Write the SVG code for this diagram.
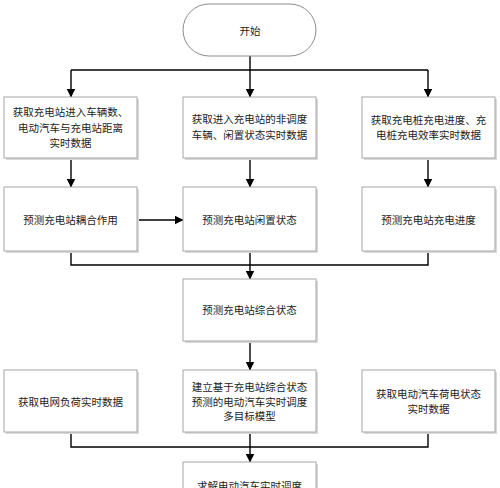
<svg xmlns="http://www.w3.org/2000/svg" width="500" height="488" viewBox="0 0 500 488">
<defs>
<style>
.box{fill:#ffffff;stroke:#a6a6a6;stroke-width:1}
.sh{fill:#d9d9d9}
.t{font-family:"Noto Sans CJK SC","Noto Sans",sans-serif;font-size:10.5px;fill:#222;text-anchor:middle}
.ln{fill:none;stroke:#000;stroke-width:1.4}
</style>
<marker id="ar" markerWidth="9" markerHeight="9" refX="8.5" refY="4.5" orient="auto" markerUnits="userSpaceOnUse">
<path d="M0,0 L9,4.5 L0,9 Z" fill="#000"/>
</marker>
</defs>
<rect width="500" height="488" fill="#ffffff"/>
<g id="connectors">
<path class="ln" d="M250,56 V70 M71,70 H428"/>
<path class="ln" d="M71,70 V97" marker-end="url(#ar)"/>
<path class="ln" d="M250,70 V97" marker-end="url(#ar)"/>
<path class="ln" d="M428,70 V97" marker-end="url(#ar)"/>
<path class="ln" d="M71,158 V187" marker-end="url(#ar)"/>
<path class="ln" d="M250,158 V187" marker-end="url(#ar)"/>
<path class="ln" d="M428,158 V187" marker-end="url(#ar)"/>
<path class="ln" d="M137,220 H183" marker-end="url(#ar)"/>
<path class="ln" d="M71,251 V265 H428 V251 M250,251 V265"/>
<path class="ln" d="M250,265 V279" marker-end="url(#ar)"/>
<path class="ln" d="M250,341 V370" marker-end="url(#ar)"/>
<path class="ln" d="M71,432 V447 H428 V432 M250,432 V447"/>
<path class="ln" d="M250,447 V462" marker-end="url(#ar)"/>
</g>
<g id="start">
<rect x="183" y="4" width="133" height="52" rx="26" ry="26" fill="#fff" stroke="#8c8c8c"/>
<text class="t" x="250" y="35">开始</text>
</g>
<g id="n1">
<rect class="sh" x="6" y="99" width="133" height="61"/>
<rect class="box" x="4" y="97" width="133" height="61"/>
<text class="t" x="70.5" y="116">获取充电站进入车辆数、</text>
<text class="t" x="70.5" y="132">电动汽车与充电站距离</text>
<text class="t" x="70.5" y="147">实时数据</text>
</g>
<g id="n2">
<rect class="sh" x="185" y="99" width="133" height="61"/>
<rect class="box" x="183" y="97" width="133" height="61"/>
<text class="t" x="249.5" y="123">获取进入充电站的非调度</text>
<text class="t" x="249.5" y="139">车辆、闲置状态实时数据</text>
</g>
<g id="n3">
<rect class="sh" x="364" y="99" width="133" height="61"/>
<rect class="box" x="362" y="97" width="133" height="61"/>
<text class="t" x="428.5" y="124">获取充电桩充电进度、充</text>
<text class="t" x="428.5" y="139">电桩充电效率实时数据</text>
</g>
<g id="n4">
<rect class="sh" x="6" y="189" width="133" height="64"/>
<rect class="box" x="4" y="187" width="133" height="64"/>
<text class="t" x="70.5" y="224">预测充电站耦合作用</text>
</g>
<g id="n5">
<rect class="sh" x="185" y="189" width="133" height="64"/>
<rect class="box" x="183" y="187" width="133" height="64"/>
<text class="t" x="249.5" y="224">预测充电站闲置状态</text>
</g>
<g id="n6">
<rect class="sh" x="364" y="189" width="133" height="64"/>
<rect class="box" x="362" y="187" width="133" height="64"/>
<text class="t" x="428.5" y="224">预测充电站充电进度</text>
</g>
<g id="n7">
<rect class="sh" x="185" y="281" width="133" height="62"/>
<rect class="box" x="183" y="279" width="133" height="62"/>
<text class="t" x="249.5" y="314">预测充电站综合状态</text>
</g>
<g id="n8">
<rect class="sh" x="6" y="372" width="133" height="62"/>
<rect class="box" x="4" y="370" width="133" height="62"/>
<text class="t" x="70.5" y="406">获取电网负荷实时数据</text>
</g>
<g id="n9">
<rect class="sh" x="185" y="372" width="133" height="62"/>
<rect class="box" x="183" y="370" width="133" height="62"/>
<text class="t" x="249.5" y="391">建立基于充电站综合状态</text>
<text class="t" x="249.5" y="406">预测的电动汽车实时调度</text>
<text class="t" x="249.5" y="420">多目标模型</text>
</g>
<g id="n10">
<rect class="sh" x="364" y="372" width="133" height="62"/>
<rect class="box" x="362" y="370" width="133" height="62"/>
<text class="t" x="428.5" y="398">获取电动汽车荷电状态</text>
<text class="t" x="428.5" y="413">实时数据</text>
</g>
<g id="n11">
<rect class="sh" x="185" y="464" width="133" height="40"/>
<rect class="box" x="183" y="462" width="133" height="40"/>
<text class="t" x="249.5" y="490">求解电动汽车实时调度</text>
</g>
</svg>
